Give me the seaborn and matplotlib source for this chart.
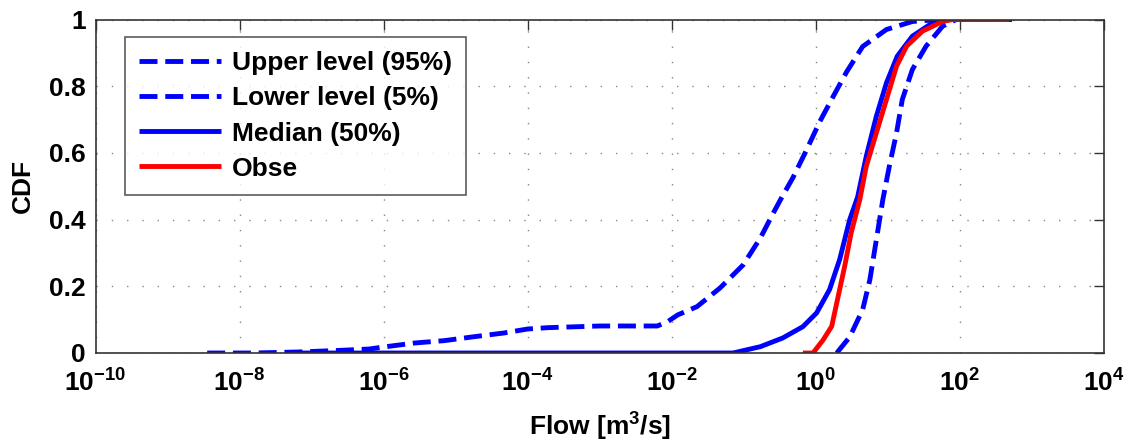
import numpy as np
import pandas as pd
import matplotlib
matplotlib.use("Agg")
import matplotlib.pyplot as plt
import seaborn as sns
from matplotlib.ticker import FixedLocator, FuncFormatter

# ---- data (log10 of flow, CDF) ----
upper_logx = [-8.45, -7.8, -7.2, -6.7, -6.2, -6.0, -5.57, -5.16, -4.74, -4.33, -4.0,
              -3.72, -3.0, -2.2, -2.05, -1.92, -1.65, -1.33, -1.01, -0.77, -0.59,
              -0.47, -0.32, -0.14, 0.055, 0.24, 0.43, 0.65, 0.98, 1.34, 1.7, 2.0, 2.68]
upper_cdf = [0.0, 0.0, 0.003, 0.007, 0.012, 0.018, 0.03, 0.037, 0.049, 0.06, 0.072,
             0.076, 0.081, 0.081, 0.095, 0.114, 0.139, 0.195, 0.264, 0.345, 0.42,
             0.468, 0.525, 0.604, 0.694, 0.769, 0.844, 0.919, 0.97, 0.994, 1.0, 1.0, 1.0]

lower_logx = [0.29, 0.47, 0.65, 0.75, 0.84, 0.93, 1.02, 1.12, 1.2, 1.34, 1.53, 1.76, 1.95, 2.72]
lower_cdf = [0.0, 0.048, 0.13, 0.22, 0.34, 0.46, 0.56, 0.66, 0.76, 0.85, 0.92, 0.98, 1.0, 1.0]

median_logx = [-7.25, -1.15, -0.77, -0.46, -0.18, 0.01, 0.19, 0.33, 0.47, 0.58, 0.7,
               0.84, 0.98, 1.13, 1.34, 1.62, 1.85, 2.72]
median_cdf = [0.0, 0.0, 0.019, 0.045, 0.079, 0.12, 0.19, 0.28, 0.4, 0.468, 0.59,
              0.71, 0.81, 0.89, 0.95, 0.99, 1.0, 1.0]

obse_logx = [-0.18, -0.04, 0.1, 0.22, 0.3, 0.4, 0.49, 0.61, 0.7, 0.84, 0.98, 1.12,
             1.26, 1.48, 1.76, 1.9, 2.68]
obse_cdf = [0.0, 0.0, 0.039, 0.08, 0.16, 0.26, 0.36, 0.46, 0.56, 0.66, 0.76, 0.86,
            0.92, 0.965, 0.994, 1.0, 1.0]

labels = ["Upper level (95%)", "Lower level (5%)", "Median (50%)", "Obse"]
x_ticks_exp = [-10, -8, -6, -4, -2, 0, 2, 4]
y_ticks = [0, 0.2, 0.4, 0.6, 0.8, 1]
y_tick_labels = ["0", "0.2", "0.4", "0.6", "0.8", "1"]

# ---- style ----
sns.set_theme(style="white")
plt.rcParams["font.family"] = ["Liberation Sans", "DejaVu Sans"]
plt.rcParams["font.weight"] = "bold"
plt.rcParams["text.color"] = "black"
plt.rcParams["axes.labelcolor"] = "black"
plt.rcParams["xtick.color"] = "black"
plt.rcParams["ytick.color"] = "black"
plt.rcParams["mathtext.fontset"] = "custom"
plt.rcParams["mathtext.rm"] = "Liberation Sans:bold"
plt.rcParams["mathtext.it"] = "Liberation Sans:bold"
plt.rcParams["mathtext.bf"] = "Liberation Sans:bold"
plt.rcParams["mathtext.default"] = "rm"

fig = plt.figure(figsize=(11.28, 4.45), dpi=100)
ax = fig.add_axes([95.5 / 1128, 1 - 353 / 445, (1104 - 95.5) / 1128, (353 - 19.5) / 445])

series = [
    (upper_logx, upper_cdf, "blue", "--"),
    (lower_logx, lower_cdf, "blue", "--"),
    (median_logx, median_cdf, "blue", "-"),
    (obse_logx, obse_cdf, "red", "-"),
]
for (lx, cy, col, ls), lab in zip(series, labels):
    df = pd.DataFrame({"flow": 10.0 ** np.array(lx), "cdf": cy})
    sns.lineplot(data=df, x="flow", y="cdf", ax=ax, color=col, linestyle=ls,
                 linewidth=3.5, label=lab, sort=False, estimator=None,
                 solid_capstyle="butt", dash_capstyle="butt")

ax.set_xscale("log")
ax.set_xlim(1e-10, 1e4)
ax.set_ylim(0, 1)
ax.xaxis.set_major_locator(FixedLocator([10.0 ** e for e in x_ticks_exp]))
ax.xaxis.set_minor_locator(FixedLocator([]))
ax.xaxis.set_major_formatter(FuncFormatter(lambda v, p: r"$10^{%d}$" % int(round(np.log10(v)))))
ax.set_yticks(y_ticks)
ax.set_yticklabels(y_tick_labels)

ax.tick_params(axis="both", which="major", direction="in", length=7, width=1,
               top=True, right=True, labelsize=19, color="#333333")
ax.tick_params(axis="x", pad=12)
ax.tick_params(axis="y", pad=7)
for lbl in ax.get_xticklabels() + ax.get_yticklabels():
    lbl.set_fontweight("bold")
    lbl.set_color("black")

ax.grid(True, which="major", color="#888888", linestyle=(0, (1, 10)), linewidth=1)
for s in ax.spines.values():
    s.set_visible(True)
    s.set_color("#333333")
    s.set_linewidth(1.2)

ax.set_xlabel("Flow [m$^3$/s]", fontsize=19, fontweight="bold", labelpad=10, color="black")
ax.set_ylabel("CDF", fontsize=19, fontweight="bold", labelpad=10, color="black")

leg = ax.legend(loc="upper left", bbox_to_anchor=(0.029, 0.948), fontsize=19,
                frameon=True, fancybox=False, edgecolor="#333333",
                handlelength=3.1, handletextpad=0.4, labelspacing=0.42,
                borderpad=0.55, borderaxespad=0)
leg.get_frame().set_linewidth(1.2)
for t in leg.get_texts():
    t.set_fontweight("bold")
    t.set_color("black")

fig.savefig("out.png", dpi=100)
